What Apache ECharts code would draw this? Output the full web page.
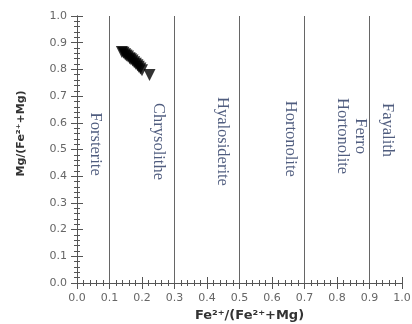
<!DOCTYPE html>
<html><head><meta charset="utf-8">
<script src="https://cdn.jsdelivr.net/npm/echarts@6/dist/echarts.min.js"></script>
<style>html,body{margin:0;padding:0;background:#fff}#c{width:412px;height:324px}</style>
</head><body><div id="c"></div>
<script>
var xTicks = ['0.0','0.1','0.2','0.3','0.4','0.5','0.6','0.7','0.8','0.9','1.0'];
var yTicks = ['0.0','0.1','0.2','0.3','0.4','0.5','0.6','0.7','0.8','0.9','1.0'];
var points = [[0.138,0.865],[0.143,0.862],[0.148,0.857],[0.152,0.852],[0.157,0.848],[0.162,0.842],[0.166,0.838],[0.171,0.833],[0.176,0.827],[0.181,0.821],[0.186,0.816],[0.19,0.81],[0.195,0.803],[0.20,0.797],[0.223,0.779]];
var boundaries = [0.1,0.3,0.5,0.7,0.9];
var fieldNames = ['Forsterite','Chrysolithe','Hyalosiderite','Hortonolite','Ferro\nHortonolite','Fayalith'];
var fieldX = [0.055,0.25,0.446,0.655,0.845,0.954];
var fieldY = [0.52,0.53,0.53,0.54,0.55,0.573];

var chart = echarts.init(document.getElementById('c'));
var axisCommon = {
  type:'value', min:0, max:1, interval:0.1,
  axisLine:{show:true,lineStyle:{color:'#555',width:1}},
  axisTick:{show:true,inside:true,length:6,lineStyle:{color:'#555'}},
  minorTick:{show:true,splitNumber:5,length:3,lineStyle:{color:'#555'}},
  splitLine:{show:false}
};
var lab = {color:'#666',fontSize:11,fontFamily:'DejaVu Sans',formatter:function(v){return v.toFixed(1);}};
chart.setOption({
  animation:false,
  grid:{left:77,right:10,top:16,bottom:41,outerBoundsMode:'none',containLabel:false},
  xAxis:[
    Object.assign({},axisCommon,{position:'bottom',axisLabel:Object.assign({margin:10},lab),
      name:'Fe²⁺/(Fe²⁺+Mg)',nameLocation:'middle',nameGap:26,
      nameTextStyle:{fontWeight:'bold',fontSize:13,color:'#333',fontFamily:'DejaVu Sans',padding:[0,0,0,20]}}),
    Object.assign({},axisCommon,{position:'top',axisLabel:{show:false}})
  ],
  yAxis:[
    Object.assign({},axisCommon,{position:'left',axisLabel:Object.assign({margin:10},lab),
      name:'Mg/(Fe²⁺+Mg)',nameLocation:'middle',nameGap:50,
      nameTextStyle:{fontWeight:'bold',fontSize:11,color:'#333',fontFamily:'DejaVu Sans',padding:[0,0,0,32]}}),
    Object.assign({},axisCommon,{position:'right',axisLabel:{show:false}})
  ],
  series:[
    {type:'scatter',data:points,symbol:'triangle',symbolRotate:180,symbolSize:12,
     itemStyle:{color:'#000'},z:5,
     markLine:{silent:true,symbol:'none',label:{show:false},
       lineStyle:{color:'#666',type:'solid',width:1},
       data:boundaries.map(function(b){return {xAxis:b};})}},
    {type:'scatter',symbolSize:0,silent:true,
     data:fieldNames.map(function(n,i){return {name:n,value:[fieldX[i],fieldY[i]]};}),
     label:{show:true,position:'inside',rotate:-90,formatter:'{b}',
       fontFamily:'Liberation Serif',fontSize:16.5,color:'#24355f',align:'center',verticalAlign:'middle',lineHeight:18}}
  ]
});
</script></body></html>
